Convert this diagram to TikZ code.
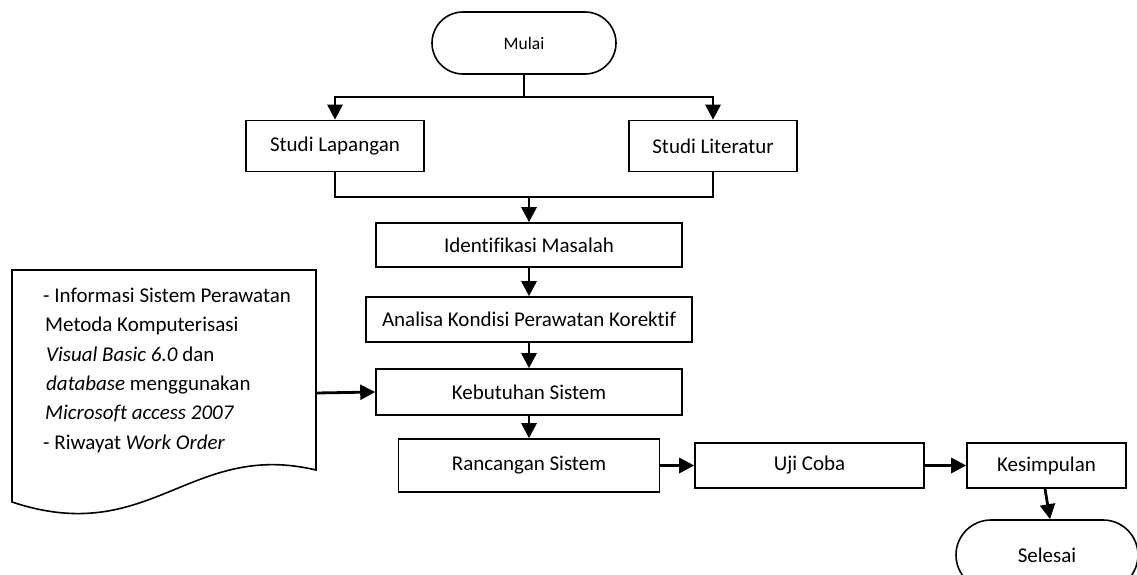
\documentclass[tikz,border=0pt]{standalone}
\usepackage{fontspec}
\setmainfont[Ligatures={NoCommon}]{Carlito}
\usetikzlibrary{shapes.misc,arrows.meta}
\begin{document}
\begin{tikzpicture}[x=1pt,y=-1pt,
  box/.style={draw,line width=1.6pt,inner sep=0pt,font=\fontsize{21}{25}\selectfont},
  term/.style={draw,line width=1.6pt,rounded rectangle,inner sep=0pt},
  conn/.style={line width=2.8pt},
  arr/.style={line width=2.8pt,-{Triangle[length=15pt,width=15pt]}},
  doctext/.style={anchor=base west,inner sep=0pt,font=\fontsize{21}{25}\selectfont}]
\useasboundingbox (0,0) rectangle (1137,575);
% terminators
\node[term,minimum width=184,minimum height=62,font=\fontsize{17.5}{20}\selectfont] (mulai) at (524,43) {Mulai};
\node[term,minimum width=182,minimum height=70,font=\fontsize{21}{25}\selectfont] (selesai) at (1047,555) {Selesai};
% boxes
\node[box,minimum width=178,minimum height=51] (lap) at (335,146) {Studi Lapangan};
\node[box,minimum width=168,minimum height=51] (lit) at (713,146) {Studi Literatur};
\node[box,minimum width=306,minimum height=44] (iden) at (529,245) {Identifikasi Masalah};
\node[box,minimum width=326,minimum height=45] (anal) at (529,319.5) {Analisa Kondisi Perawatan Korektif};
\node[box,minimum width=306,minimum height=46] (kebu) at (529,392) {Kebutuhan Sistem};
\node[box,minimum width=261,minimum height=53] (ranc) at (529,465.5) {Rancangan Sistem};
\node[box,minimum width=229,minimum height=45] (uji) at (809.5,465.5) {Uji Coba};
\node[box,minimum width=159,minimum height=45] (kes) at (1046.5,465.5) {Kesimpulan};
% document shape
\draw[line width=1.6pt,line join=miter] (12,502) -- (12,270) -- (316,270) -- (316,470)
  .. controls (190,440) and (150,548) .. (12,502) -- cycle;
\coordinate (docR) at (316,393);
\node[doctext] (t1) at (43,302) {- Informasi Sistem Perawatan};
\node[doctext] (t2) at (45,331) {Metoda Komputerisasi};
\node[doctext] (t3) at (46,361) {\textit{Visual Basic 6.0} dan};
\node[doctext] (t4) at (46,390) {\textit{database} menggunakan};
\node[doctext] (t5) at (45,419) {\textit{Microsoft access 2007}};
\node[doctext] (t6) at (43,449) {- Riwayat \textit{Work Order}};
% connectors
\coordinate (j1) at (524,97);
\coordinate (j2) at (529,197);
\draw[conn] (mulai.south) -- (j1);
\draw[arr] (j1) -| (lap.north);
\draw[arr] (j1) -| (lit.north);
\draw[conn] (lap.south) |- (j2);
\draw[conn] (lit.south) |- (j2);
\draw[arr] (j2) -- (iden.north);
\draw[arr] (iden.south) -- (anal.north);
\draw[arr] (anal.south) -- (kebu.north);
\draw[arr] (kebu.south) -- (ranc.north);
\draw[arr] (docR) -- (kebu.west);
\draw[arr] (ranc.east) -- (uji.west);
\draw[arr] (uji.east) -- (kes.west);
\draw[arr] (kes.south -| 1045,0) -- (selesai.north -| 1050,0);
\end{tikzpicture}
\end{document}
